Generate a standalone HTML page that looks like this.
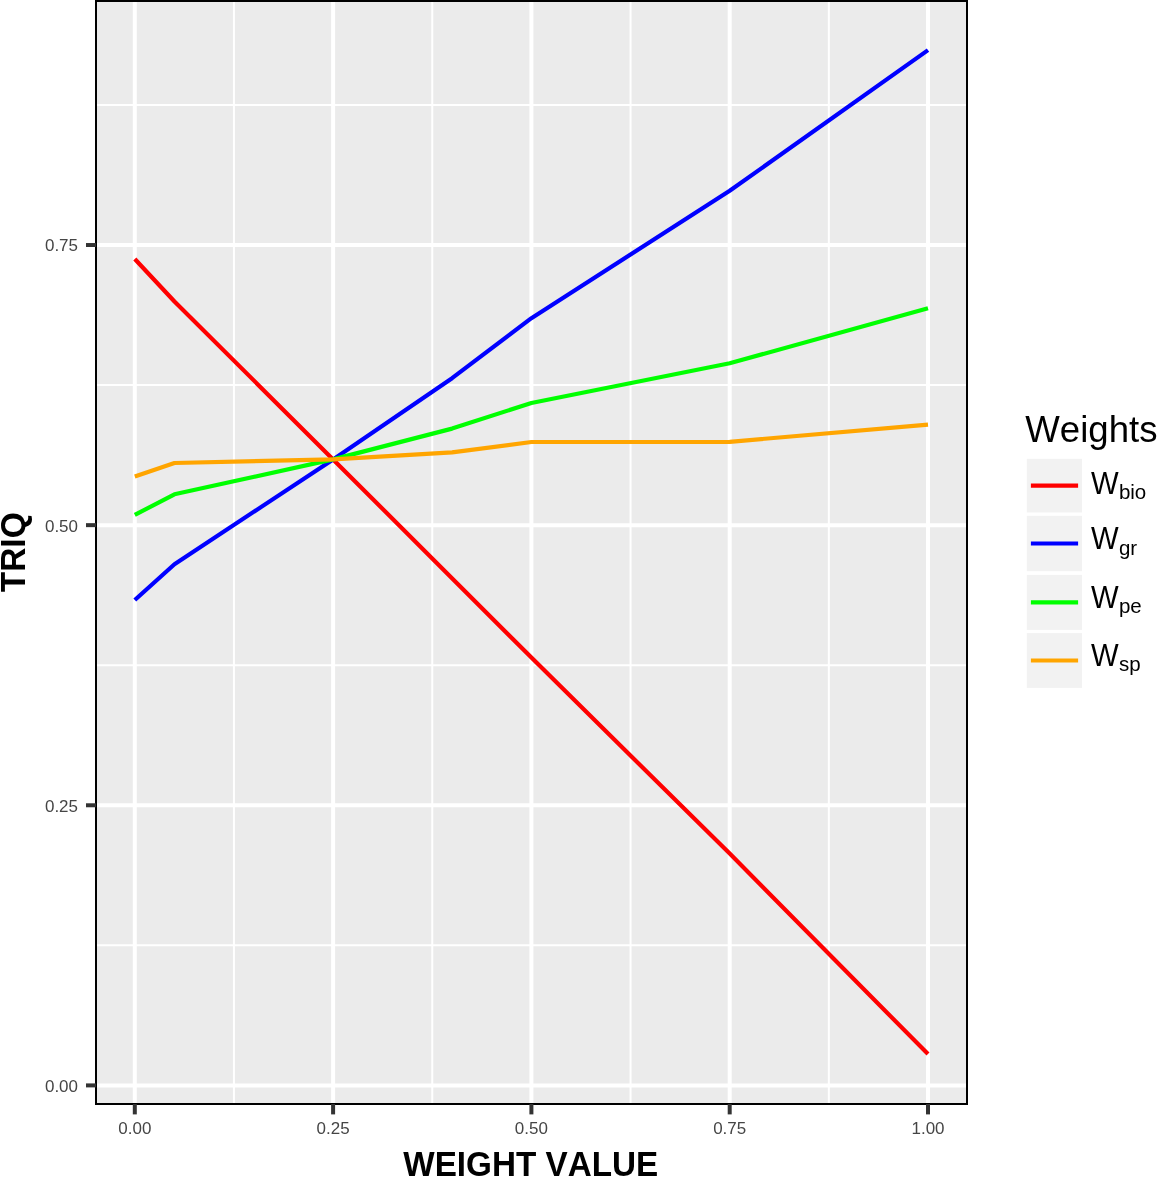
<!DOCTYPE html><html><head><meta charset="utf-8"><style>html,body{margin:0;padding:0;background:#fff;}svg{display:block;will-change:transform;}text{font-family:"Liberation Sans",sans-serif;font-kerning:none;}</style></head><body>
<svg width="1157" height="1177" viewBox="0 0 1157 1177">
<rect x="0" y="0" width="1157" height="1177" fill="#fff"/>
<rect x="96" y="1" width="871" height="1103" fill="#EBEBEB"/>
<line x1="233.95" y1="1" x2="233.95" y2="1104" stroke="#fff" stroke-width="2.0"/>
<line x1="432.25" y1="1" x2="432.25" y2="1104" stroke="#fff" stroke-width="2.0"/>
<line x1="630.55" y1="1" x2="630.55" y2="1104" stroke="#fff" stroke-width="2.0"/>
<line x1="828.85" y1="1" x2="828.85" y2="1104" stroke="#fff" stroke-width="2.0"/>
<line x1="96" y1="945.34" x2="967" y2="945.34" stroke="#fff" stroke-width="2.0"/>
<line x1="96" y1="665.21" x2="967" y2="665.21" stroke="#fff" stroke-width="2.0"/>
<line x1="96" y1="385.09" x2="967" y2="385.09" stroke="#fff" stroke-width="2.0"/>
<line x1="96" y1="104.96" x2="967" y2="104.96" stroke="#fff" stroke-width="2.0"/>
<line x1="134.80" y1="1" x2="134.80" y2="1104" stroke="#fff" stroke-width="4.0"/>
<line x1="333.10" y1="1" x2="333.10" y2="1104" stroke="#fff" stroke-width="4.0"/>
<line x1="531.40" y1="1" x2="531.40" y2="1104" stroke="#fff" stroke-width="4.0"/>
<line x1="729.70" y1="1" x2="729.70" y2="1104" stroke="#fff" stroke-width="4.0"/>
<line x1="928.00" y1="1" x2="928.00" y2="1104" stroke="#fff" stroke-width="4.0"/>
<line x1="96" y1="1085.40" x2="967" y2="1085.40" stroke="#fff" stroke-width="4.0"/>
<line x1="96" y1="805.28" x2="967" y2="805.28" stroke="#fff" stroke-width="4.0"/>
<line x1="96" y1="525.15" x2="967" y2="525.15" stroke="#fff" stroke-width="4.0"/>
<line x1="96" y1="245.03" x2="967" y2="245.03" stroke="#fff" stroke-width="4.0"/>
<polyline points="134.80,259.05 174.46,301.5 333.10,459.4 531.40,657.6 729.70,853.6 928.00,1054.1" fill="none" stroke="#FF0000" stroke-width="4.2" stroke-linejoin="round" stroke-linecap="butt"/>
<polyline points="134.80,600.0 174.46,564.2 333.10,459.4 452.08,378.2 531.40,318.2 729.70,190.8 928.00,50.1" fill="none" stroke="#0000FF" stroke-width="4.2" stroke-linejoin="round" stroke-linecap="butt"/>
<polyline points="134.80,514.9 174.46,494.3 333.10,459.4 452.08,428.6 531.40,403.0 729.70,363.3 928.00,308.2" fill="none" stroke="#00FF00" stroke-width="4.2" stroke-linejoin="round" stroke-linecap="butt"/>
<polyline points="134.80,476.5 174.46,463.0 333.10,459.4 452.08,452.3 531.40,442.0 729.70,441.8 928.00,424.7" fill="none" stroke="#FFA500" stroke-width="4.2" stroke-linejoin="round" stroke-linecap="butt"/>
<rect x="96" y="1" width="871" height="1103" fill="none" stroke="#000" stroke-width="2"/>
<line x1="86" y1="1085.40" x2="96" y2="1085.40" stroke="#333" stroke-width="4"/>
<line x1="86" y1="805.28" x2="96" y2="805.28" stroke="#333" stroke-width="4"/>
<line x1="86" y1="525.15" x2="96" y2="525.15" stroke="#333" stroke-width="4"/>
<line x1="86" y1="245.03" x2="96" y2="245.03" stroke="#333" stroke-width="4"/>
<line x1="134.80" y1="1104" x2="134.80" y2="1114.4" stroke="#333" stroke-width="4"/>
<line x1="333.10" y1="1104" x2="333.10" y2="1114.4" stroke="#333" stroke-width="4"/>
<line x1="531.40" y1="1104" x2="531.40" y2="1114.4" stroke="#333" stroke-width="4"/>
<line x1="729.70" y1="1104" x2="729.70" y2="1114.4" stroke="#333" stroke-width="4"/>
<line x1="928.00" y1="1104" x2="928.00" y2="1114.4" stroke="#333" stroke-width="4"/>
<text transform="translate(78,1091.80) scale(1.03,0.965)" font-size="16.5" fill="#454545" text-anchor="end">0.00</text>
<text transform="translate(78,811.68) scale(1.03,0.965)" font-size="16.5" fill="#454545" text-anchor="end">0.25</text>
<text transform="translate(78,531.55) scale(1.03,0.965)" font-size="16.5" fill="#454545" text-anchor="end">0.50</text>
<text transform="translate(78,251.43) scale(1.03,0.965)" font-size="16.5" fill="#454545" text-anchor="end">0.75</text>
<text transform="translate(134.80,1133.8) scale(1.03,0.965)" font-size="16.5" fill="#454545" text-anchor="middle">0.00</text>
<text transform="translate(333.10,1133.8) scale(1.03,0.965)" font-size="16.5" fill="#454545" text-anchor="middle">0.25</text>
<text transform="translate(531.40,1133.8) scale(1.03,0.965)" font-size="16.5" fill="#454545" text-anchor="middle">0.50</text>
<text transform="translate(729.70,1133.8) scale(1.03,0.965)" font-size="16.5" fill="#454545" text-anchor="middle">0.75</text>
<text transform="translate(928.00,1133.8) scale(1.03,0.965)" font-size="16.5" fill="#454545" text-anchor="middle">1.00</text>
<text transform="translate(24.9,592.3) rotate(-90) scale(1,1.037)" x="0" y="0" font-size="33.5" font-weight="bold" fill="#000">TRIQ</text>
<text transform="translate(403.3,1175.9) scale(1,1.03)" x="0" y="0" font-size="33.25" font-weight="bold" fill="#000">WEIGHT VALUE</text>
<text x="1025.3" y="442.1" font-size="36.6" fill="#000">Weights</text>
<rect x="1026.8" y="458.80" width="55.2" height="53.65" fill="#F2F2F2"/>
<line x1="1030.9" y1="485.62" x2="1078.1" y2="485.62" stroke="#FF0000" stroke-width="4.2"/>
<text transform="translate(1090.95,493.60) scale(1,1.04)" font-size="29.28" fill="#000">W</text>
<text x="1118.9" y="499.30" font-size="20.5" fill="#000">bio</text>
<rect x="1026.8" y="515.80" width="55.2" height="55.40" fill="#F2F2F2"/>
<line x1="1030.9" y1="543.50" x2="1078.1" y2="543.50" stroke="#0000FF" stroke-width="4.2"/>
<text transform="translate(1090.95,549.30) scale(1,1.04)" font-size="29.28" fill="#000">W</text>
<text x="1118.9" y="555.00" font-size="20.5" fill="#000">gr</text>
<rect x="1026.8" y="574.90" width="55.2" height="55.00" fill="#F2F2F2"/>
<line x1="1030.9" y1="602.40" x2="1078.1" y2="602.40" stroke="#00FF00" stroke-width="4.2"/>
<text transform="translate(1090.95,607.70) scale(1,1.04)" font-size="29.28" fill="#000">W</text>
<text x="1118.9" y="613.40" font-size="20.5" fill="#000">pe</text>
<rect x="1026.8" y="633.10" width="55.2" height="54.80" fill="#F2F2F2"/>
<line x1="1030.9" y1="660.50" x2="1078.1" y2="660.50" stroke="#FFA500" stroke-width="4.2"/>
<text transform="translate(1090.95,665.70) scale(1,1.04)" font-size="29.28" fill="#000">W</text>
<text x="1118.9" y="671.40" font-size="20.5" fill="#000">sp</text>
</svg></body></html>
